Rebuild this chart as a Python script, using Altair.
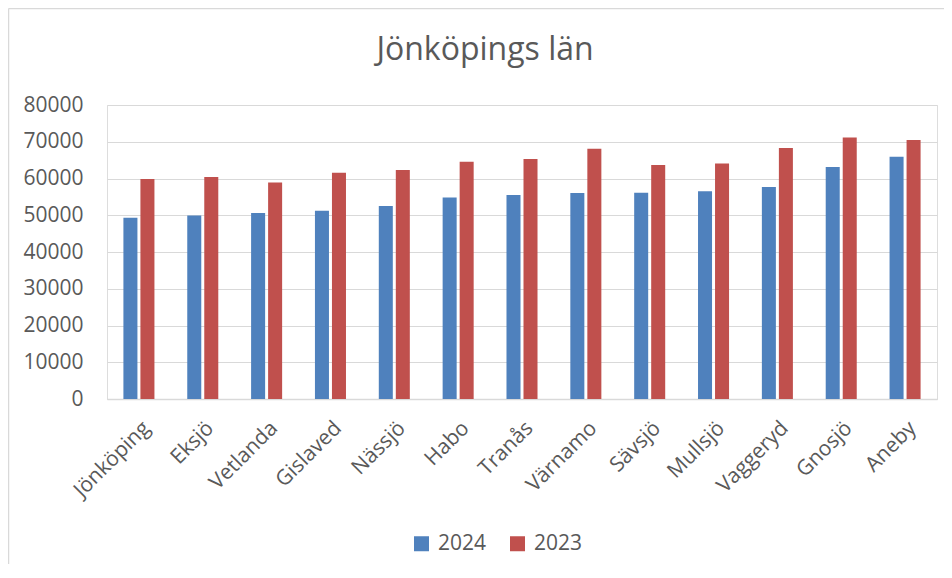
import altair as alt
import pandas as pd

categories = ["Jönköping", "Eksjö", "Vetlanda", "Gislaved", "Nässjö", "Habo", "Tranås",
              "Värnamo", "Sävsjö", "Mullsjö", "Vaggeryd", "Gnosjö", "Aneby"]
values_2024 = [49350, 49900, 50630, 51250, 52530, 54800, 55530, 56080, 56100, 56540, 57710, 63100, 65890]
values_2023 = [59840, 60380, 58900, 61550, 62290, 64550, 65290, 68090, 63650, 64100, 68270, 71170, 70460]
years = ["2024", "2023"]
colors = ["#4F81BD", "#C0504D"]
y_ticks = [0, 10000, 20000, 30000, 40000, 50000, 60000, 70000, 80000]

rows = []
for c, a, b in zip(categories, values_2024, values_2023):
    rows.append({"kommun": c, "year": "2024", "value": a})
    rows.append({"kommun": c, "year": "2023", "value": b})
df = pd.DataFrame(rows)

FONT = "Open Sans"
TXT = "#595959"
GRID = "#D9D9D9"

bars = alt.Chart(df).mark_bar().encode(
    x=alt.X("kommun:N", sort=categories, title=None,
            scale=alt.Scale(paddingInner=0.514, paddingOuter=0.257),
            axis=alt.Axis(labelAngle=-45, labelFontSize=21, labelColor=TXT, labelFont=FONT,
                          ticks=False, domainColor=GRID, domainWidth=1.5, labelPadding=18)),
    xOffset=alt.XOffset("year:N", sort=years, scale=alt.Scale(paddingInner=0.176)),
    y=alt.Y("value:Q", title=None,
            scale=alt.Scale(domain=[0, 80000], nice=False),
            axis=alt.Axis(values=y_ticks, format="d", labelFontSize=21, labelColor=TXT,
                          labelFont=FONT, ticks=False, domain=False, labelPadding=24,
                          gridColor=GRID, gridWidth=1.2)),
    color=alt.Color("year:N", sort=years,
                    scale=alt.Scale(domain=years, range=colors),
                    legend=alt.Legend(title=None, orient="none", direction="horizontal",
                                      legendX=304, legendY=428, symbolType="square",
                                      symbolSize=225, symbolStrokeWidth=0, symbolOpacity=1,
                                      labelFontSize=21, labelColor=TXT, labelFont=FONT,
                                      labelOffset=6, columnPadding=20, padding=0)),
)

border_top = alt.Chart(pd.DataFrame({"a": [0]})).mark_rule(color=GRID, strokeWidth=1.5).encode(
    x=alt.value(-98.5), x2=alt.value(900), y=alt.value(-96.5))
border_left = alt.Chart(pd.DataFrame({"a": [0]})).mark_rule(color=GRID, strokeWidth=1.5).encode(
    x=alt.value(-98.5), y=alt.value(-96.5), y2=alt.value(600))

chart = alt.layer(border_top, border_left, bars).properties(
    width=830, height=294,
    title=alt.TitleParams("Jönköpings län", fontSize=32, font=FONT, color=TXT,
                          fontWeight="normal", dx=-37, offset=-84, baseline="alphabetic"),
    autosize=alt.AutoSizeParams(type="none"),
    padding={"left": 99, "top": 97, "right": 7, "bottom": 165},
).configure_view(stroke=None).configure(font=FONT)

chart.save("out.html", embed_options={"renderer": "svg", "actions": False})
